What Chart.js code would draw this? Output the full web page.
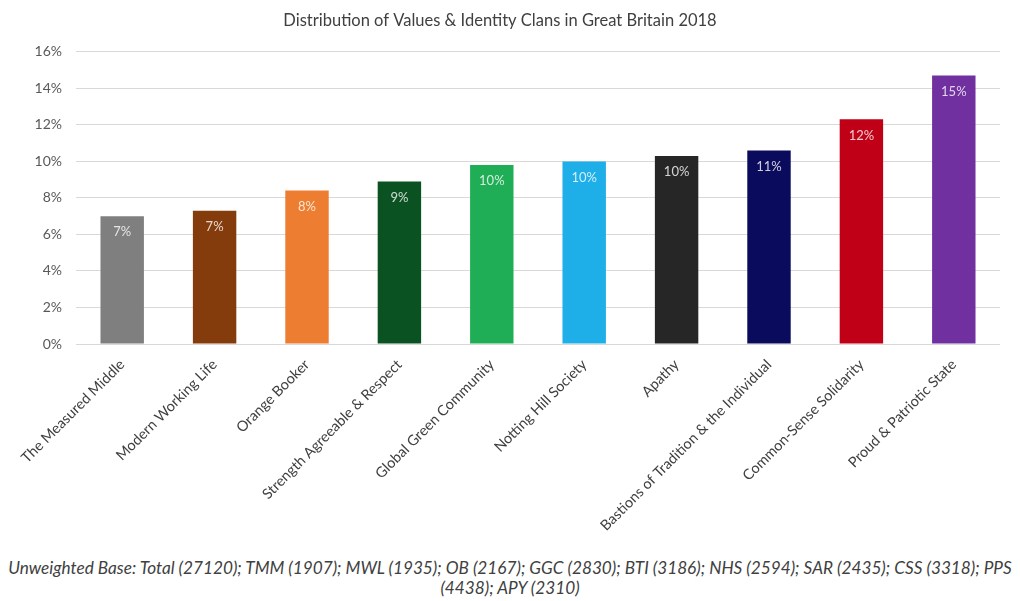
<!DOCTYPE html>
<html>
<head>
<meta charset="utf-8">
<script src="https://cdn.jsdelivr.net/npm/chart.js@4/dist/chart.umd.min.js"></script>
<style>
	body { margin: 0; background: #ffffff; }
	#wrap { position: relative; width: 1020px; height: 601px; }
	#footer { position: absolute; left: 0; top: 558px; width: 1020px; text-align: center;
		font-family: Lato, "Open Sans", sans-serif; font-style: italic; font-size: 17.2px; line-height: 20px; color: #404040; }
</style>
</head>
<body>
<div id="wrap">
	<canvas id="chart_canvas" width="1020" height="555"></canvas>
	<div id="footer"></div>
</div>
<script>
	var chartTitle = 'Distribution of Values & Identity Clans in Great Britain 2018';
	var categories = ['The Measured Middle', 'Modern Working Life', 'Orange Booker', 'Strength Agreeable & Respect',
		'Global Green Community', 'Notting Hill Society', 'Apathy', 'Bastions of Tradition & the Individual',
		'Common-Sense Solidarity', 'Proud & Patriotic State'];
	var values = [7.0, 7.3, 8.4, 8.9, 9.8, 10.0, 10.3, 10.6, 12.3, 14.7];
	var barColors = ['#7f7f7f', '#843c0c', '#ed7d31', '#0b5222', '#1fae55', '#1eaee8', '#262626', '#0b0b5e', '#c00016', '#7030a0'];
	var yTicks = [0, 2, 4, 6, 8, 10, 12, 14, 16];
	var footerLines = ['Unweighted Base: Total (27120); TMM (1907); MWL (1935); OB (2167); GGC (2830); BTI (3186); NHS (2594); SAR (2435); CSS (3318); PPS',
		'(4438); APY (2310)'];

	document.getElementById('footer').innerHTML = footerLines.join('<br>');

	// writes the rounded value just inside the top of each bar
	var barLabels = {
		id: 'barLabels',
		afterDatasetsDraw: function(chart) {
			var ctx = chart.ctx;
			var meta = chart.getDatasetMeta(0);
			ctx.save();
			ctx.font = '13px Lato, "Open Sans", sans-serif';
			ctx.fillStyle = 'rgba(255,255,255,0.8)';
			ctx.textAlign = 'center';
			ctx.textBaseline = 'middle';
			for (var i = 0; i < meta.data.length; i++) {
				var bar = meta.data[i];
				ctx.fillText(Math.round(values[i]) + '%', bar.x, bar.y + 16);
			}
			ctx.restore();
		}
	};

	var ctx = document.getElementById('chart_canvas');
	var myChart = new Chart(ctx, {
		type: 'bar',
		data: {
			labels: categories,
			datasets: [{
				data: values,
				backgroundColor: barColors,
				borderWidth: 0,
				barPercentage: 0.47,
				categoryPercentage: 1.0
			}]
		},
		options: {
			responsive: false,
			animation: false,
			layout: { padding: { left: 0, right: 20, top: 0, bottom: 0 } },
			plugins: {
				legend: { display: false },
				tooltip: { enabled: false },
				title: {
					display: true,
					text: chartTitle,
					color: '#404040',
					font: { family: 'Lato, "Open Sans", sans-serif', size: 16.5, weight: 'normal' },
					padding: { top: 11, bottom: 21 }
				}
			},
			scales: {
				x: {
					grid: { display: false },
					border: { display: false },
					ticks: {
						color: '#404040',
						font: { family: 'Lato, "Open Sans", sans-serif', size: 14.5 },
						minRotation: 45,
						maxRotation: 45,
						autoSkip: false,
						padding: 4
					},
					afterFit: function(scale) { scale.height = 211; }
				},
				y: {
					min: 0,
					max: 16,
					afterBuildTicks: function(scale) {
						scale.ticks = yTicks.map(function(v) { return { value: v }; });
					},
					grid: { color: '#d9d9d9', lineWidth: 1, drawTicks: false },
					border: { display: false },
					ticks: {
						color: '#595959',
						font: { family: 'Lato, "Open Sans", sans-serif', size: 14 },
						padding: 14,
						callback: function(v) { return v + '%'; }
					},
					afterFit: function(scale) { scale.width = 76; }
				}
			}
		},
		plugins: [barLabels]
	});
</script>
</body>
</html>
